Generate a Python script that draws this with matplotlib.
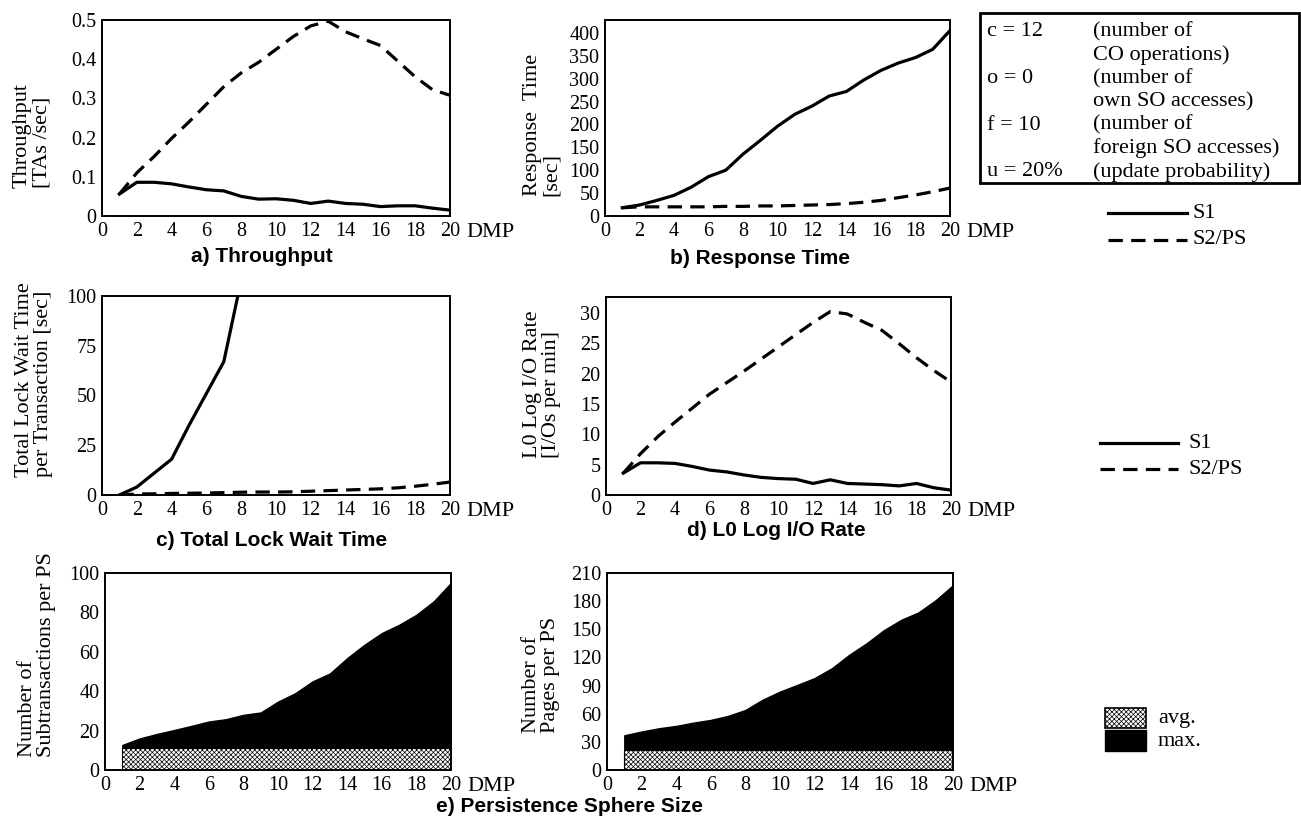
import matplotlib
matplotlib.use("Agg")
import matplotlib.pyplot as plt
from matplotlib.lines import Line2D
from matplotlib.patches import Rectangle

# ── data ─────────────────────────────────────────────────────────────────
dmp = list(range(1, 21))

thr_s1 = [0.056, 0.086, 0.086, 0.082, 0.074, 0.067, 0.064, 0.050, 0.043, 0.044,
          0.040, 0.032, 0.038, 0.032, 0.030, 0.024, 0.026, 0.026, 0.020, 0.015]
thr_s2 = [0.056, 0.110, 0.152, 0.198, 0.240, 0.285, 0.330, 0.365, 0.392, 0.425,
          0.458, 0.485, 0.497, 0.470, 0.452, 0.435, 0.395, 0.355, 0.322, 0.308]

resp_s1 = [18, 24, 34, 45, 63, 86, 100, 135, 165, 196,
           222, 240, 262, 272, 297, 318, 334, 346, 364, 405]
resp_s2 = [18, 20, 20, 20, 20, 20, 21, 21, 22, 22,
           23, 24, 25, 27, 30, 34, 40, 46, 53, 61]

lock_dmp_s1 = [1, 2, 3, 4, 5, 6, 7, 8]
lock_s1 = [0, 4, 11, 18, 35, 51, 67, 108]
lock_s2 = [0, 0.5, 0.6, 0.8, 0.9, 1.0, 1.2, 1.4, 1.5, 1.5,
           1.6, 1.9, 2.2, 2.5, 2.8, 3.1, 3.6, 4.4, 5.4, 6.5]

log_s1 = [3.6, 5.3, 5.3, 5.2, 4.7, 4.1, 3.8, 3.3, 2.9, 2.7,
          2.6, 1.9, 2.5, 1.9, 1.8, 1.7, 1.5, 1.9, 1.2, 0.8]
log_s2 = [3.6, 6.8, 9.6, 12.0, 14.3, 16.6, 18.5, 20.4, 22.4, 24.4,
          26.4, 28.4, 30.2, 29.8, 28.4, 27.1, 24.9, 22.6, 20.5, 18.6]

sub_avg = [11, 11, 11, 11, 11, 11, 11, 11, 11, 11,
           11, 11, 11, 11, 11, 11, 11, 11, 11, 11]
sub_max = [12.7, 16, 18.3, 20.3, 22.4, 24.6, 25.8, 28, 29.2, 34.7,
           39, 45, 49, 56.8, 63.6, 69.5, 73.7, 78.8, 85.6, 95]

pg_avg = [21, 21, 21, 21, 21, 21, 21, 21, 21, 21,
          21, 21, 21, 21, 21, 21, 21, 21, 21, 21]
pg_max = [37, 41, 44.5, 47, 50.5, 53.4, 57.7, 64, 75, 83.6,
          90.7, 98, 108.5, 122.8, 135, 149, 160, 168, 181, 197]

xticks = [0, 2, 4, 6, 8, 10, 12, 14, 16, 18, 20]
box_left = ["c = 12", "", "o = 0", "", "f = 10", "", "u = 20%"]
box_right = ["(number of", "CO operations)", "(number of", "own SO accesses)",
             "(number of", "foreign SO accesses)", "(update probability)"]

# ── figure setup ─────────────────────────────────────────────────────────
plt.rcParams["font.family"] = ["Liberation Serif", "DejaVu Serif"]
plt.rcParams["hatch.linewidth"] = 0.5
W, H = 1301, 827
fig = plt.figure(figsize=(W / 100, H / 100), dpi=100)

SOLID = dict(color="black", lw=2.3, solid_joinstyle="round")
DASH = dict(color="black", lw=2.3, dashes=(4.5, 2.6))
TITLE = dict(family="Liberation Sans", weight="bold", fontsize=15, ha="center", va="center")


def px_axes(l, t, r, b):
    return fig.add_axes([l / W, 1 - b / H, (r - l) / W, (b - t) / H])


def style(ax, ylim, yticks, ylabels=None):
    ax.set_xlim(0, 20)
    ax.set_ylim(*ylim)
    ax.set_xticks(xticks)
    ax.set_yticks(yticks)
    if ylabels is not None:
        ax.set_yticklabels(ylabels)
    ax.tick_params(length=0, pad=4, labelsize=14.5)
    for sp in ax.spines.values():
        sp.set_linewidth(1.4)
    ax.annotate("DMP", xy=(1, 0), xycoords="axes fraction", xytext=(16, -7),
                textcoords="offset pixels", ha="left", va="top", fontsize=16)


def ylab(x, y, s):
    fig.text(x / W, 1 - y / H, s, rotation=90, ha="center", va="center",
             fontsize=16, multialignment="left", linespacing=1.0)


# a) throughput
ax = px_axes(102, 20, 450, 216)
ax.plot(dmp, thr_s1, **SOLID)
ax.plot(dmp, thr_s2, **DASH)
style(ax, (0, 0.5), [0, 0.1, 0.2, 0.3, 0.4, 0.5], ["0", "0.1", "0.2", "0.3", "0.4", "0.5"])
ylab(32, 135, "Throughput\n[TAs /sec]")
fig.text(262 / W, 1 - 256 / H, "a) Throughput", **TITLE)

# b) response time
ax = px_axes(605, 20, 950, 216)
ax.plot(dmp, resp_s1, **SOLID)
ax.plot(dmp, resp_s2, **DASH)
style(ax, (0, 428), list(range(0, 401, 50)))
ylab(542, 125, "Response  Time\n[sec]")
fig.text(760 / W, 1 - 258 / H, "b) Response Time", **TITLE)

# c) lock wait time
ax = px_axes(102, 296, 450, 495)
ax.plot(lock_dmp_s1, lock_s1, **SOLID)
ax.plot(dmp, lock_s2, **DASH)
style(ax, (0, 100), [0, 25, 50, 75, 100])
ylab(34, 380, "Total Lock Wait Time\nper Transaction [sec]")
fig.text(272 / W, 1 - 540 / H, "c) Total Lock Wait Time", **TITLE)

# d) L0 log I/O rate
ax = px_axes(606, 297, 951, 495)
ax.plot(dmp, log_s1, **SOLID)
ax.plot(dmp, log_s2, **DASH)
style(ax, (0, 32.6), [0, 5, 10, 15, 20, 25, 30])
ylab(542, 384, "L0 Log I/O Rate\n[I/Os per min]")
fig.text(776 / W, 1 - 531 / H, "d) L0 Log I/O Rate", **TITLE)

# e) persistence sphere size
for (l, r), avg, mx, ylim, yt, lab, lx, ly in [
        ((105, 451), sub_avg, sub_max, (0, 100), list(range(0, 101, 20)),
         "Number of\nSubtransactions per PS", 37, 655),
        ((607, 953), pg_avg, pg_max, (0, 210), list(range(0, 211, 30)),
         "Number of\nPages per PS", 541, 675)]:
    ax = px_axes(l, 573, r, 770)
    ax.fill_between(dmp, avg, mx, facecolor="black", edgecolor="black", lw=1)
    ax.fill_between(dmp, 0, avg, facecolor="white", edgecolor="black",
                    hatch="xxxxxxx", lw=0.8)
    style(ax, ylim, yt)
    ylab(lx, ly, lab)
fig.text(570 / W, 1 - 806 / H, "e) Persistence Sphere Size", **TITLE)

# ── parameter box and legends ────────────────────────────────────────────
fig.add_artist(Rectangle((980 / W, 1 - 183 / H), 319 / W, 170 / H, transform=fig.transFigure,
                         fill=False, lw=2, edgecolor="black"))
for i, (lt, rt) in enumerate(zip(box_left, box_right)):
    y = 1 - (32 + i * 23.3) / H
    fig.text(987 / W, y, lt, ha="left", va="center", fontsize=16)
    fig.text(1093 / W, y, rt, ha="left", va="center", fontsize=16)

for (x0, x1, tx), ys in [((1108, 1187, 1192), (213, 240)), ((1100, 1178, 1188), (443, 469))]:
    for y, st, name in zip(ys, (SOLID, DASH), ("S1", "S2/PS")):
        fig.add_artist(Line2D([x0 / W, x1 / W], [1 - y / H] * 2, transform=fig.transFigure, **st))
        fig.text(tx / W, 1 - y / H, name, ha="left", va="center", fontsize=16)

fig.add_artist(Rectangle((1105 / W, 1 - 728 / H), 41 / W, 20 / H, transform=fig.transFigure,
                         facecolor="white", edgecolor="black", hatch="xxxxxxx", lw=1.2))
fig.add_artist(Rectangle((1105 / W, 1 - 751 / H), 41 / W, 21 / H, transform=fig.transFigure,
                         facecolor="black", edgecolor="black", lw=1))
fig.text(1158 / W, 1 - 718 / H, "avg.", ha="left", va="center", fontsize=16)
fig.text(1158 / W, 1 - 742 / H, "max.", ha="left", va="center", fontsize=16)

fig.savefig("out.png", dpi=100)
